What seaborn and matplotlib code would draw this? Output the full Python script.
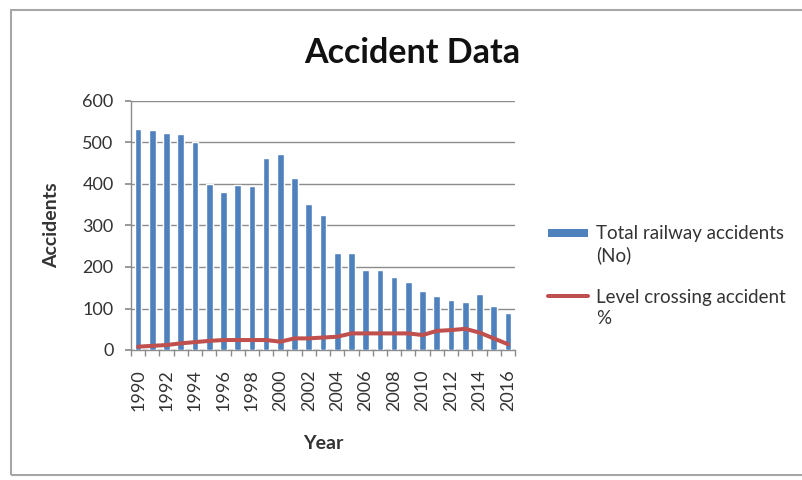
import matplotlib
matplotlib.use("Agg")
import matplotlib.pyplot as plt
from matplotlib.patches import Rectangle, Patch
from matplotlib.lines import Line2D
from matplotlib.legend_handler import HandlerBase
from matplotlib.ticker import FixedLocator
import seaborn as sns
import pandas as pd

# Yearly railway accident figures
years = [str(y) for y in range(1990, 2017)]
total_accidents = [532, 529, 522, 520, 502, 399, 381, 398, 396, 463,
                   472, 415, 351, 325, 233, 233, 193, 193, 177, 163,
                   141, 130, 120, 115, 134, 106, 90]
level_crossing_pct = [8, 10, 12, 16, 19, 22, 24, 24, 24, 24,
                      20, 28, 28, 30, 32, 40, 40, 40, 40, 40,
                      36, 46, 48, 51, 42, 28, 14]
y_ticks = [0, 100, 200, 300, 400, 500, 600]

bar_label = "Total railway accidents\n(No)"
line_label = "Level crossing accident\n%"

df = pd.DataFrame({"Year": years, "Accidents": total_accidents,
                   "Pct": level_crossing_pct})

sns.set_theme(style="white")
plt.rcParams["font.family"] = ["Lato", "DejaVu Sans"]

BLUE = "#4F81BD"
RED = "#C0504D"
GRID = "#8C8C8C"
TEXT = "#333333"
LINE_W = 2.9

fig = plt.figure(figsize=(8.02, 4.8), dpi=100)
ax = fig.add_axes([131 / 802, 1 - 350 / 480, (515 - 131) / 802, (350 - 101) / 480])

sns.barplot(data=df, x="Year", y="Accidents", color=BLUE, saturation=1,
            width=0.47, ax=ax, zorder=3)
sns.pointplot(data=df, x="Year", y="Pct", color=RED, marker="",
              linewidth=LINE_W, ax=ax, zorder=4)

ax.set_ylim(0, 600)
ax.set_xlim(-0.5, len(years) - 0.5)
ax.set_yticks(y_ticks)
ax.yaxis.grid(True, color=GRID, linewidth=1.0, zorder=0)
ax.set_axisbelow(True)

# Every other year labelled, tick marks between categories
ax.set_xticks(range(0, len(years), 2))
ax.set_xticklabels(years[::2], rotation=90, fontsize=13, color=TEXT)
ax.xaxis.set_minor_locator(FixedLocator([i - 0.5 for i in range(len(years) + 1)]))
ax.tick_params(axis="x", which="major", length=0, pad=14)
ax.tick_params(axis="x", which="minor", length=4, color=GRID, bottom=True)
ax.tick_params(axis="y", length=4, color=GRID, left=True, labelsize=13,
               labelcolor=TEXT, pad=8.5)

for side in ("top", "right"):
    ax.spines[side].set_visible(False)
for side in ("left", "bottom"):
    ax.spines[side].set_color(GRID)
    ax.spines[side].set_linewidth(1.0)

ax.set_xlabel("Year", fontsize=14, fontweight="bold", color=TEXT, labelpad=17)
ax.set_ylabel("Accidents", fontsize=14, fontweight="bold", color=TEXT, labelpad=16)

fig.text(0.514, 0.889, "Accident Data", ha="center", va="center",
         fontsize=24.5, fontweight="bold", color="#111111")


class FirstLineHandler(HandlerBase):
    """Legend key drawn level with the first line of a two-line label."""

    def __init__(self, kind, shift):
        super().__init__()
        self.kind = kind
        self.shift = shift

    def create_artists(self, legend, orig_handle, xdescent, ydescent,
                       width, height, fontsize, trans):
        yc = height / 2 - ydescent + self.shift * fontsize
        x0 = -xdescent
        if self.kind == "bar":
            h = 0.4 * fontsize
            art = Rectangle((x0, yc - h / 2), width, h,
                            facecolor=orig_handle.get_facecolor(),
                            edgecolor="none", transform=trans)
        else:
            art = Line2D([x0, x0 + width], [yc, yc],
                         color=orig_handle.get_color(),
                         linewidth=orig_handle.get_linewidth(), transform=trans)
        return [art]


bar_handle = Patch(facecolor=BLUE, edgecolor=BLUE)
line_handle = Line2D([0], [0], color=RED, linewidth=LINE_W)
leg = fig.legend([bar_handle, line_handle], [bar_label, line_label],
                 loc="upper left", bbox_to_anchor=(548 / 802, 1 - 225 / 480),
                 frameon=False, fontsize=13.5, handlelength=2.15,
                 handletextpad=0.4, labelspacing=1.3, borderpad=0,
                 borderaxespad=0,
                 handler_map={Patch: FirstLineHandler("bar", 0.65),
                              Line2D: FirstLineHandler("line", 0.65)})
for t in leg.get_texts():
    t.set_color(TEXT)
    t.set_linespacing(1.3)

# Chart frame
fig.patches.append(Rectangle((11 / 802, 1 - 475 / 480), 1.0, (475 - 10) / 480,
                             transform=fig.transFigure, fill=False,
                             edgecolor="#A6A6A6", linewidth=1.5, zorder=0))

fig.savefig("out.png", dpi=100)
